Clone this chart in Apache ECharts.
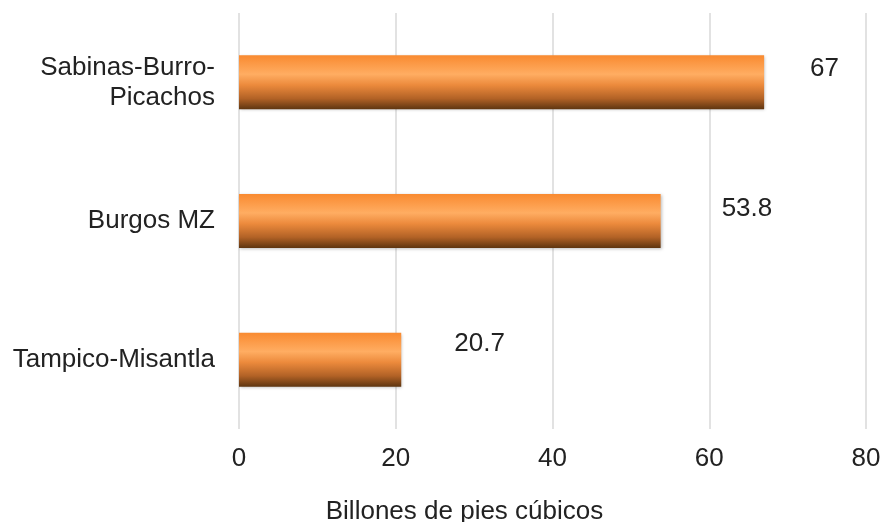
<!DOCTYPE html>
<html>
<head>
<meta charset="utf-8">
<script src="https://cdn.jsdelivr.net/npm/echarts@6/dist/echarts.min.js"></script>
<style>html,body{margin:0;padding:0;background:#fff;}#c{width:881px;height:522px;}</style>
</head>
<body>
<div id="c"></div>
<script>
const categories = ['Tampico-Misantla', 'Burgos MZ', 'Sabinas-Burro-\nPicachos'];
const values = [20.7, 53.8, 67];
const xTicks = [0, 20, 40, 60, 80];
const axisName = 'Billones de pies cúbicos';

const labelOffsets = [[53, -16], [61, -12], [46, -14]];

const chart = echarts.init(document.getElementById('c'));
const grad = new echarts.graphic.LinearGradient(0, 0, 0, 1, [
  {offset: 0, color: '#f98a30'},
  {offset: 0.35, color: '#ffad62'},
  {offset: 0.55, color: '#ec8a3c'},
  {offset: 0.8, color: '#b26226'},
  {offset: 1, color: '#5e3510'}
]);
const font = 'Liberation Sans';
const fs = 26;
chart.setOption({
  animation: false,
  grid: {left: 239, right: 15, top: 13, bottom: 93, containLabel: false, outerBoundsMode: 'none'},
  xAxis: {
    type: 'value', min: xTicks[0], max: xTicks[xTicks.length - 1], interval: 20,
    name: axisName, nameLocation: 'middle', nameGap: 70,
    nameTextStyle: {fontFamily: font, fontSize: fs, color: '#222', padding: [0, 176, 0, 0]},
    axisLine: {show: false}, axisTick: {show: false},
    axisLabel: {fontFamily: font, fontSize: fs, color: '#222', margin: 17},
    splitLine: {lineStyle: {color: '#d9d9d9', width: 1.5}}
  },
  yAxis: {
    type: 'category', data: categories,
    axisLine: {show: false}, axisTick: {show: false},
    axisLabel: {fontFamily: font, fontSize: fs, color: '#222', margin: 24, align: 'right', lineHeight: 30}
  },
  series: [{
    type: 'bar', barWidth: 54,
    data: values.map((v, i) => ({value: v, label: {offset: labelOffsets[i]}})),
    itemStyle: {color: grad, shadowColor: 'rgba(0,0,0,0.25)', shadowBlur: 3, shadowOffsetX: 1, shadowOffsetY: 1},
    label: {show: true, position: 'right', distance: 0, fontFamily: font, fontSize: fs, color: '#222'}
  }]
});
</script>
</body>
</html>
